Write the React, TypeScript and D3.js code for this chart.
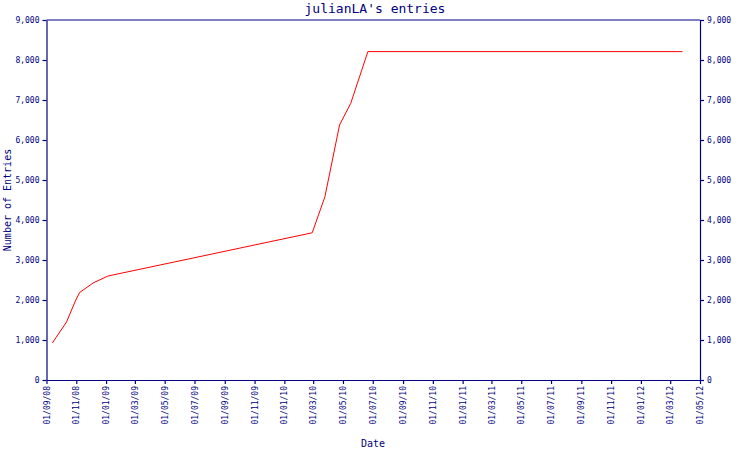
import { useEffect, useRef } from "react";
import * as d3 from "d3";

const W = 750;
const H = 450;
const navy = "#000080";
const font = "'DejaVu Sans Mono', monospace";

const margin = { top: 20, right: 50, bottom: 70, left: 46.5 };

// entries over time
const dates = [
    "2008-09-13", "2008-10-12", "2008-10-31", "2008-11-08", "2008-12-06",
    "2009-01-05", "2010-02-27", "2010-03-25", "2010-04-24", "2010-05-17",
    "2010-06-21", "2012-03-26",
];
const entries = [925, 1450, 2000, 2190, 2430, 2600, 3680, 4580, 6375, 6920, 8210, 8210];

const xStart = "2008-09-01";
const xEnd = "2012-05-01";
const yTicks = [0, 1000, 2000, 3000, 4000, 5000, 6000, 7000, 8000, 9000];

const parse = d3.timeParse("%Y-%m-%d");

const App = () => {
    const ref = useRef(null);

    useEffect(() => {
        const svg = d3.select(ref.current);
        svg.selectAll("*").remove();

        const x = d3
            .scaleTime()
            .domain([parse(xStart), parse(xEnd)])
            .range([margin.left, W - margin.right]);
        const y = d3
            .scaleLinear()
            .domain([0, 9000])
            .range([H - margin.bottom, margin.top]);

        const fmtY = (d) => (d === 0 ? "0" : d3.format(",")(d));

        // top border
        svg.append("line")
            .attr("x1", x.range()[0]).attr("x2", x.range()[1])
            .attr("y1", margin.top).attr("y2", margin.top)
            .attr("stroke", navy).attr("stroke-width", 1);

        const yLeft = svg.append("g")
            .attr("transform", `translate(${margin.left},0)`)
            .call(d3.axisLeft(y).tickValues(yTicks).tickFormat(fmtY).tickSize(4).tickSizeOuter(0));
        const yRight = svg.append("g")
            .attr("transform", `translate(${W - margin.right},0)`)
            .call(d3.axisRight(y).tickValues(yTicks).tickFormat(fmtY).tickSize(4).tickSizeOuter(0));

        const xAxis = svg.append("g")
            .attr("transform", `translate(0,${H - margin.bottom})`)
            .call(
                d3.axisBottom(x)
                    .ticks(d3.timeMonth.every(2))
                    .tickFormat(d3.timeFormat("%d/%m/%y"))
                    .tickSize(4)
                    .tickSizeOuter(0)
            );
        xAxis.selectAll("text")
            .attr("transform", "rotate(-90)")
            .attr("text-anchor", "end")
            .attr("x", -6)
            .attr("y", 0)
            .attr("dy", "0.32em");

        [yLeft, yRight, xAxis].forEach((g) => {
            g.selectAll("path, line").attr("stroke", navy).attr("stroke-width", 1.2);
            g.selectAll("text")
                .attr("fill", navy)
                .attr("font-family", font)
                .attr("font-size", 8);
        });

        const pts = dates.map((d, i) => [parse(d), entries[i]]);
        const line = d3.line().x((d) => x(d[0])).y((d) => y(d[1]));
        svg.append("path")
            .datum(pts)
            .attr("d", line)
            .attr("fill", "none")
            .attr("stroke", "#ff0000")
            .attr("stroke-width", 1);

        // titles
        svg.append("text")
            .attr("x", W / 2).attr("y", 13)
            .attr("text-anchor", "middle")
            .attr("font-family", font).attr("font-size", 13)
            .attr("fill", navy)
            .text("julianLA's entries");
        svg.append("text")
            .attr("transform", `translate(11,${(margin.top + H - margin.bottom) / 2}) rotate(-90)`)
            .attr("text-anchor", "middle")
            .attr("font-family", font).attr("font-size", 10)
            .attr("fill", navy)
            .text("Number of Entries");
        svg.append("text")
            .attr("x", 373).attr("y", 447)
            .attr("text-anchor", "middle")
            .attr("font-family", font).attr("font-size", 10)
            .attr("fill", navy)
            .text("Date");
    }, []);

    return (
        <div style={{ position: "absolute", left: 0, top: 0 }}>
            <svg ref={ref} width={W} height={H} style={{ display: "block", background: "#fff" }} />
        </div>
    );
};

export default App;
